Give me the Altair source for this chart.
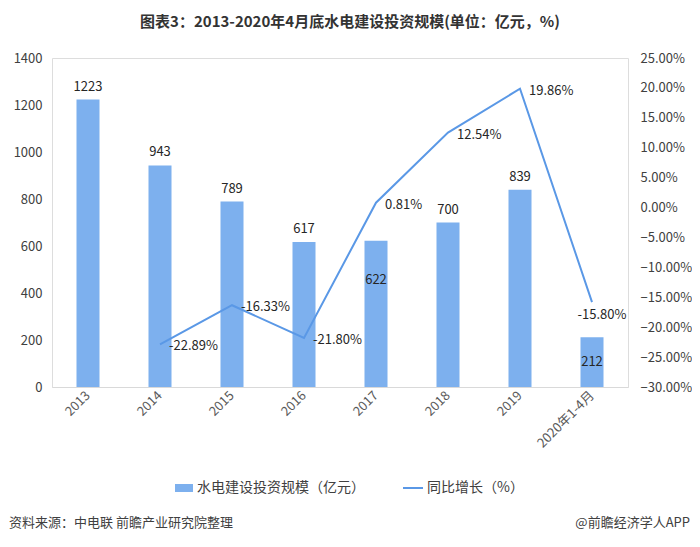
import altair as alt
import pandas as pd

categories = ["2013", "2014", "2015", "2016", "2017", "2018", "2019", "2020年1-4月"]
investment = [1223, 943, 789, 617, 622, 700, 839, 212]
growth = [None, -22.89, -16.33, -21.80, 0.81, 12.54, 19.86, -15.80]
inside_labels = ["2017", "2020年1-4月"]

title_text = "图表3：2013-2020年4月底水电建设投资规模(单位：亿元，%)"
legend_bar = "水电建设投资规模（亿元）"
legend_line = "同比增长（%）"
source_text = "资料来源：中电联 前瞻产业研究院整理"
brand_text = "@前瞻经济学人APP"

df = pd.DataFrame({"cat": categories, "inv": investment, "g": growth})
df["glabel"] = df["g"].map(lambda v: "" if pd.isna(v) else f"{v:.2f}%")

FONT = "Noto Sans CJK SC"
BAR = "#7DB0EE"
LINE = "#5A98E6"
TXT = "#404040"

xenc = alt.X("cat:N", sort=categories, title=None,
             scale=alt.Scale(paddingInner=0.68, paddingOuter=0.34),
             axis=alt.Axis(labelAngle=-45, labelFontSize=13, labelColor="#595959",
                           labelFont=FONT, ticks=False, domainColor="#D9D9D9",
                           labelPadding=6, labelAlign="right", labelBaseline="middle"))

base = alt.Chart(df)
yleft = alt.Y("inv:Q", title=None,
              scale=alt.Scale(domain=[0, 1400]),
              axis=alt.Axis(values=list(range(0, 1401, 200)), grid=False, domain=False,
                            ticks=False, labelFontSize=13, labelColor=TXT, labelFont=FONT,
                            labelPadding=10, format="d"))

bars = base.mark_bar(color=BAR, size=23).encode(x=xenc, y=yleft)
lab_above = base.transform_filter(
    ~alt.FieldOneOfPredicate(field="cat", oneOf=inside_labels)
).mark_text(baseline="bottom", dy=-6, fontSize=13, font=FONT, color="#262626").encode(
    x=xenc, y=yleft, text="inv:Q")
lab_2017 = base.transform_filter(alt.datum.cat == "2017").mark_text(
    baseline="middle", dy=39, fontSize=13, font=FONT, color="#262626").encode(
    x=xenc, y=yleft, text="inv:Q")
lab_2020 = base.transform_filter(alt.datum.cat == "2020年1-4月").mark_text(
    baseline="middle", dy=25, fontSize=13, font=FONT, color="#262626").encode(
    x=xenc, y=yleft, text="inv:Q")
bar_layer = alt.layer(bars, lab_above, lab_2017, lab_2020)

yright = alt.Y("g:Q", title=None,
               scale=alt.Scale(domain=[-30, 25]),
               axis=alt.Axis(orient="right", values=list(range(-30, 26, 5)), grid=False,
                             domain=False, ticks=False, labelFontSize=13, labelColor=TXT,
                             labelFont=FONT, labelPadding=12,
                             labelExpr="format(datum.value, '.2f') + '%'"))
gbase = base.transform_filter("isValid(datum.g)")
line = gbase.mark_line(color=LINE, strokeWidth=2).encode(x=xenc, y=yright)
glab = gbase.transform_filter(alt.datum.cat != "2020年1-4月").mark_text(
    align="left", baseline="middle", dx=9, dy=2, fontSize=13, font=FONT, color="#262626"
).encode(x=xenc, y=yright, text="glabel:N")
glab_last = gbase.transform_filter(alt.datum.cat == "2020年1-4月").mark_text(
    align="center", baseline="middle", dx=10, dy=13, fontSize=13, font=FONT, color="#262626"
).encode(x=xenc, y=yright, text="glabel:N")
line_layer = alt.layer(line, glab, glab_last)

main = alt.layer(bar_layer, line_layer).resolve_scale(y="independent")

ann = alt.Chart(pd.DataFrame({"a": [0]}))
title = ann.mark_text(fontSize=15, fontWeight="bold", font=FONT, color="#333333",
                      align="center", baseline="middle").encode(
    x=alt.value(298), y=alt.value(-36), text=alt.value(title_text))
leg_rect = ann.mark_rect(color=BAR).encode(
    x=alt.value(123), x2=alt.value(141), y=alt.value(426), y2=alt.value(434))
leg_t1 = ann.mark_text(fontSize=14, font=FONT, color=TXT, align="left", baseline="middle").encode(
    x=alt.value(145), y=alt.value(430), text=alt.value(legend_bar))
leg_rule = ann.mark_rule(color=LINE, strokeWidth=2).encode(
    x=alt.value(351), x2=alt.value(371), y=alt.value(430))
leg_t2 = ann.mark_text(fontSize=14, font=FONT, color=TXT, align="left", baseline="middle").encode(
    x=alt.value(375), y=alt.value(430), text=alt.value(legend_line))
src = ann.mark_text(fontSize=13, font=FONT, color=TXT, align="left", baseline="middle").encode(
    x=alt.value(-43), y=alt.value(465), text=alt.value(source_text))
brand = ann.mark_text(fontSize=13, font=FONT, color=TXT, align="right", baseline="middle").encode(
    x=alt.value(638), y=alt.value(465), text=alt.value(brand_text))

chart = alt.layer(main, title, leg_rect, leg_t1, leg_rule, leg_t2, src, brand).properties(
    width=576, height=329,
    autosize=alt.AutoSizeParams(type="none"),
    padding={"left": 44, "top": 50, "right": 64, "bottom": 152},
).configure_view(stroke=None).configure(background="white")

chart.save("out.html", embed_options={"renderer": "svg", "actions": False})
